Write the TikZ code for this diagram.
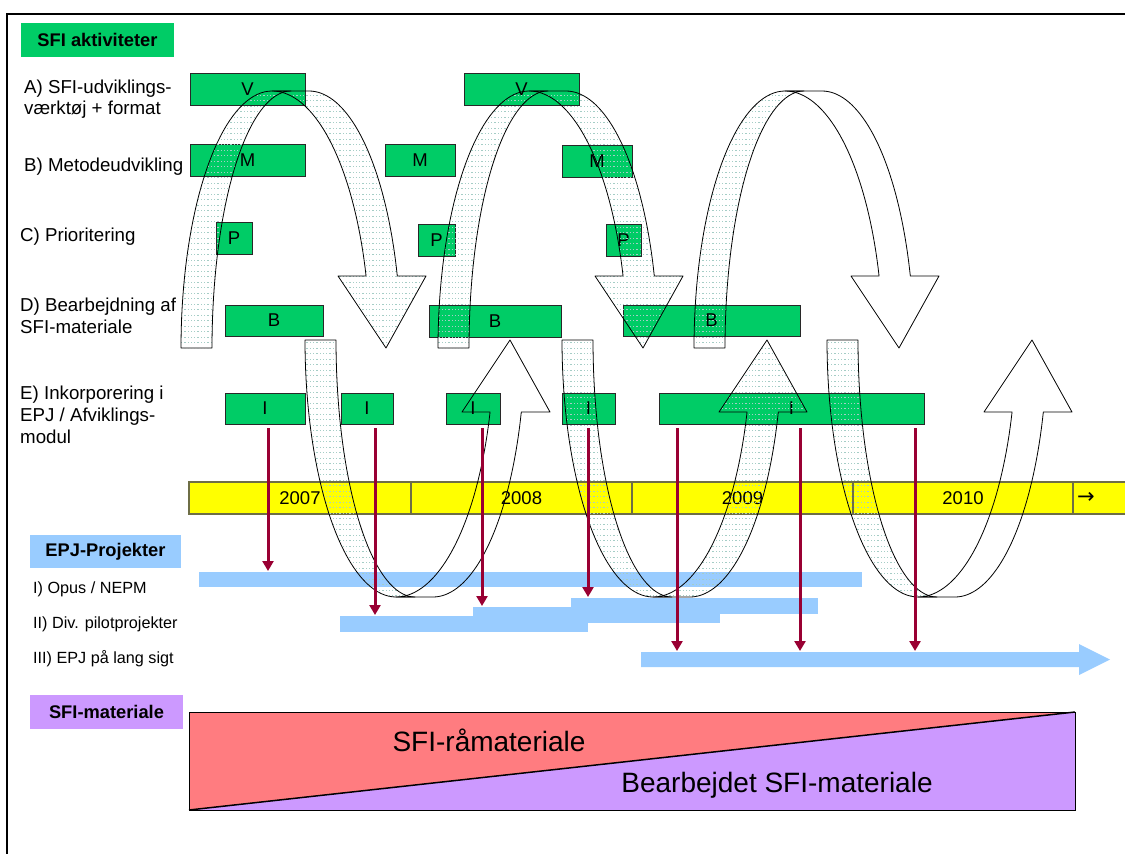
\documentclass[tikz,border=0pt]{standalone}
\usepackage{fontspec}
\setmainfont{Liberation Sans}
\newfontfamily\dejavu{DejaVu Sans}
\usetikzlibrary{arrows.meta,patterns}

\definecolor{sfigreen}{RGB}{0,204,102}
\definecolor{tlyellow}{RGB}{255,255,0}
\definecolor{tlborder}{RGB}{110,110,70}
\definecolor{epjblue}{RGB}{153,204,255}
\definecolor{redarrow}{RGB}{153,0,51}
\definecolor{salmon}{RGB}{255,124,128}
\definecolor{lilac}{RGB}{204,153,255}
\definecolor{dotc}{RGB}{165,205,198}
\definecolor{boxborder}{RGB}{40,40,40}

\pgfdeclarepatternformonly{sparsedots}{\pgfqpoint{-1pt}{-1pt}}{\pgfqpoint{1pt}{1pt}}{\pgfqpoint{3.3pt}{5.5pt}}{%
  \pgfpathrectangle{\pgfqpoint{-0.6pt}{-0.45pt}}{\pgfqpoint{1.3pt}{0.9pt}}\pgfusepath{fill}}

\tikzset{
  lab/.style={anchor=base west, inner sep=0pt, font=\fontsize{18.7}{21}\selectfont},
  epjlab/.style={anchor=base west, inner sep=0pt, font=\fontsize{16.2}{18}\selectfont},
  gbox/.style={draw=boxborder, line width=0.9pt, fill=sfigreen, inner sep=0pt, font=\fontsize{18.5}{21}\selectfont},
  headbox/.style={inner sep=0pt, font=\bfseries\fontsize{18.3}{21}\selectfont},
  yearcell/.style={draw=tlborder, line width=1.2pt, fill=tlyellow, inner sep=0pt, font=\fontsize{18.5}{21}\selectfont},
  bluebar/.style={fill=epjblue, inner sep=0pt, draw=none},
  band/.style={draw=black, line width=0.8pt, line join=round},
  dotband/.style={band, pattern=sparsedots, pattern color=dotc},
  redconn/.style={draw=redarrow, line width=3pt, -{Triangle[width=11pt,length=10pt]}},
  bigtext/.style={anchor=base, inner sep=0pt, font=\fontsize{28}{32}\selectfont},
}

% rectangle node from corner coordinates
\newcommand{\rbox}[7]{%
  \pgfmathsetmacro{\rbW}{#5-#3}\pgfmathsetmacro{\rbH}{#6-#4}%
  \pgfmathsetmacro{\rbX}{(#3+#5)/2}\pgfmathsetmacro{\rbY}{(#4+#6)/2}%
  \node[#1, minimum width=\rbW pt, minimum height=\rbH pt] (#2) at (\rbX,\rbY) {#7};}

% curved band arrow: #1 x0, #2 y0 (leg/tip line), #3 sign (1 = U up-arrow, -1 = arch down-arrow), #4 front style
\newcommand{\curvedband}[4]{%
  \draw[dotband] (#1,#2) -- ({#1+31},#2)
    -- plot[domain=180:90, samples=40, variable=\t] ({#1+110+79*cos(\t)},{#2+#3*257*sin(\t)})
    -- ({#1+91},{#2+#3*257})
    -- plot[domain=90:180, samples=40, variable=\t] ({#1+91+91*cos(\t)},{#2+#3*257*sin(\t)})
    -- cycle;
  \draw[#4] ({#1+91},{#2+#3*257}) -- ({#1+128},{#2+#3*257})
    -- plot[domain=90:16.27, samples=40, variable=\t] ({#1+128+92*cos(\t)},{#2+#3*257*sin(\t)})
    -- ({#1+245},{#2+#3*72}) -- ({#1+205},#2) -- ({#1+157},{#2+#3*72}) -- ({#1+185},{#2+#3*72})
    -- plot[domain=16.27:90, samples=40, variable=\t] ({#1+91+98*cos(\t)},{#2+#3*257*sin(\t)})
    -- cycle;}

\begin{document}
\begin{tikzpicture}[x=1pt, y=-1pt]
\useasboundingbox (0,0) rectangle (1125,854);

% frame
\draw[line width=2pt] (7,870) -- (7,14) -- (1140,14);

% headers
\rbox{headbox, fill=sfigreen}{hsfi}{21}{23}{174}{57}{SFI aktiviteter}
\rbox{headbox, fill=epjblue}{hepj}{30}{535}{181}{568}{EPJ-Projekter}
\rbox{headbox, fill=lilac}{hmat}{30}{695}{183}{729}{SFI-materiale}

% row labels
\node[lab] (la1) at (24,93) {A) SFI-udviklings-};
\node[lab] (la2) at (24,114) {værktøj + format};
\node[lab] (lb1) at (24,171) {B) Metodeudvikling};
\node[lab] (lc1) at (20,241) {C) Prioritering};
\node[lab] (ld1) at (20,311) {D) Bearbejdning af};
\node[lab] (ld2) at (20,333) {SFI-materiale};
\node[lab] (le1) at (20,399) {E) Inkorporering i};
\node[lab] (le2) at (20,421) {EPJ / Afviklings-};
\node[lab] (le3) at (20,443) {modul};

% EPJ labels
\node[epjlab] (p1) at (33,593) {I) Opus / NEPM};
\node[epjlab] (p2) at (33,628) {II) Div. pilotprojekter};
\node[epjlab] (p3) at (33,663) {III) EPJ på lang sigt};

% blue bars
\rbox{bluebar}{b1}{199}{572}{862}{587}{}
\rbox{bluebar}{b2a}{340}{616}{588}{632}{}
\rbox{bluebar}{b2b}{473}{607}{720}{623}{}
\rbox{bluebar}{b2c}{571}{598}{818}{614}{}
\fill[epjblue] (641,652) -- (1079,652) -- (1079,644) -- (1110,659.5) -- (1079,675) -- (1079,667) -- (641,667) -- cycle;

% timeline
\fill[tlyellow] (1073,482) rectangle (1140,514);
\draw[tlborder, line width=1.2pt] (1140,482) -- (1073,482) -- (1073,514) -- (1140,514);
\rbox{yearcell}{y07}{189}{482}{411}{514}{2007}
\rbox{yearcell}{y08}{411}{482}{632}{514}{2008}
\rbox{yearcell}{y09}{632}{482}{853}{514}{2009}
\rbox{yearcell}{y10}{853}{482}{1073}{514}{2010}
\node[inner sep=0pt, font=\dejavu\fontsize{21}{24}\selectfont] (yarr) at (1086,498) {→};

% green activity boxes
\rbox{gbox}{a1}{190}{73}{305}{105}{V}
\rbox{gbox}{a2}{464}{73}{579}{105}{V}
\rbox{gbox}{m1}{190}{144}{305}{176}{M}
\rbox{gbox}{m2}{385}{144}{455}{176}{M}
\rbox{gbox}{m3}{562}{145}{632}{177}{M}
\rbox{gbox}{c1}{216}{222}{252}{254}{P}
\rbox{gbox}{c2}{418}{224}{455}{256}{P}
\rbox{gbox}{c3}{606}{224}{641}{256}{P}
\rbox{gbox}{d1}{225}{305}{323}{336}{B}
\rbox{gbox}{d2}{429}{305}{561}{337}{B}
\rbox{gbox}{d3}{623}{305}{800}{336}{B}
\rbox{gbox}{e1}{225}{393}{305}{424}{I}
\rbox{gbox}{e2}{341}{393}{393}{424}{I}
\rbox{gbox}{e3}{446}{393}{500}{424}{I}
\rbox{gbox}{e4}{562}{393}{615}{424}{I}
\rbox{gbox}{e5}{659}{393}{924}{424}{I}

% curved arrows
\curvedband{181}{348}{-1}{dotband}
\curvedband{438}{348}{-1}{dotband}
\curvedband{694}{348}{-1}{band}
\curvedband{305}{340}{1}{band}
\curvedband{562}{340}{1}{dotband}
\curvedband{827}{340}{1}{band}

% red connectors
\coordinate (r1s) at (268,428); \coordinate (r1e) at (268,571);
\coordinate (r2s) at (375,428); \coordinate (r2e) at (375,615);
\coordinate (r3s) at (482,428); \coordinate (r3e) at (482,606);
\coordinate (r4s) at (588,428); \coordinate (r4e) at (588,597);
\coordinate (r5s) at (677,428); \coordinate (r5e) at (677,651);
\coordinate (r6s) at (800,428); \coordinate (r6e) at (800,651);
\coordinate (r7s) at (915,428); \coordinate (r7e) at (915,651);
\foreach \i in {1,...,7} {\draw[redconn] (r\i s) -- (r\i e);}

% SFI material
\fill[salmon] (189,712) -- (1075,712) -- (189,810) -- cycle;
\fill[lilac] (189,810) -- (1075,712) -- (1075,810) -- cycle;
\draw[line width=1pt] (189,712) rectangle (1075,810);
\draw[line width=1.5pt] (189,810) -- (1075,712);
\node[bigtext] (raw) at (489,751) {SFI-råmateriale};
\node[bigtext] (proc) at (777,792) {Bearbejdet SFI-materiale};
\end{tikzpicture}
\end{document}
